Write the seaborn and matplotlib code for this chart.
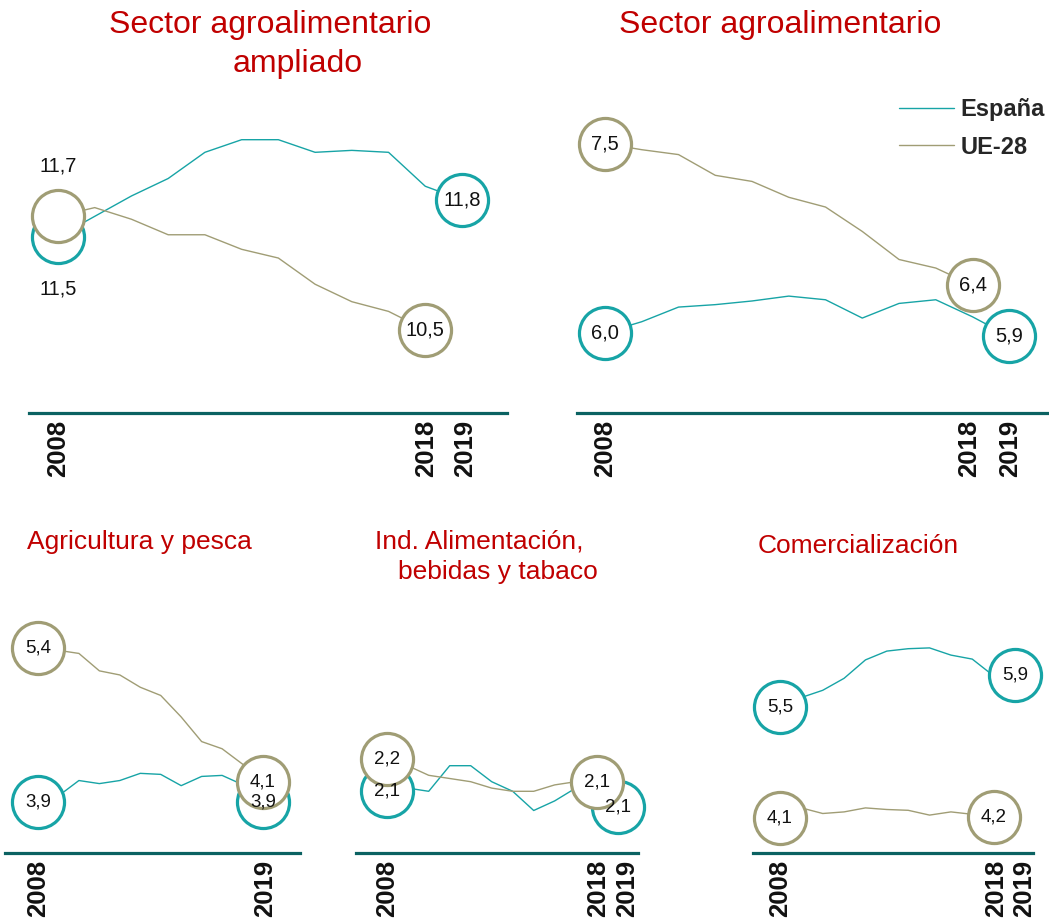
import matplotlib
matplotlib.use("Agg")
import matplotlib.pyplot as plt
import matplotlib.transforms as mtransforms
from matplotlib.lines import Line2D
import seaborn as sns
import pandas as pd

# data, 2008-2019; UE-28 mostly ends in 2018
years = list(range(2008, 2020))

ampl_es = [11.46, 11.67, 11.88, 12.06, 12.33, 12.46, 12.46, 12.33, 12.35, 12.33, 11.98, 11.84]
ampl_ue = [11.67, 11.76, 11.64, 11.48, 11.48, 11.33, 11.24, 10.97, 10.79, 10.69, 10.50]
agro_es = [5.97, 6.06, 6.18, 6.20, 6.23, 6.27, 6.24, 6.09, 6.21, 6.24, 6.10, 5.94]
agro_ue = [7.52, 7.47, 7.43, 7.26, 7.21, 7.08, 7.00, 6.80, 6.57, 6.50, 6.36]
agri_es = [3.90, 3.96, 4.11, 4.08, 4.11, 4.18, 4.17, 4.06, 4.15, 4.16, 4.07, 3.90]
agri_ue = [5.40, 5.38, 5.35, 5.18, 5.14, 5.02, 4.94, 4.73, 4.49, 4.42, 4.27, 4.10]
ind_es = [2.11, 2.12, 2.11, 2.19, 2.19, 2.14, 2.11, 2.05, 2.08, 2.12, 2.14, 2.06]
ind_ue = [2.21, 2.19, 2.16, 2.15, 2.14, 2.12, 2.11, 2.11, 2.13, 2.14, 2.14]
com_es = [5.53, 5.65, 5.74, 5.89, 6.12, 6.23, 6.26, 6.27, 6.18, 6.13, 5.92, 5.93]
com_ue = [4.14, 4.27, 4.20, 4.22, 4.27, 4.25, 4.24, 4.18, 4.22, 4.19, 4.16]

series_names = ["España", "UE-28"]
titles = [
    ["Sector agroalimentario", "ampliado"],
    ["Sector agroalimentario"],
    ["Agricultura y pesca"],
    ["Ind. Alimentación,", "bebidas y tabaco"],
    ["Comercialización"],
]
tick_sets = [[2008, 2018, 2019], [2008, 2018, 2019], [2008, 2019],
             [2008, 2018, 2019], [2008, 2018, 2019]]

TEAL = "#17a4a6"
OLIVE = "#a09d75"
BASE = "#0b6262"
RED = "#c00000"

W, H = 1049, 921

# layout in pixels: axes box (left, right, baseline, top),
# x calibration (px of 2008, px of 2019), y calibration (value, px, px per unit),
# nudge of the tick labels (px) so 2018 / 2019 do not collide
layout = [
    dict(box=(29, 507, 412.7, 100), xcal=(58, 462), ycal=(11.46, 236.7, 97),
         title_x=[270, 298], title_y=[33, 72], tsize=23, lsize=14.5,
         nudge=[0, 1, 3]),
    dict(box=(577, 1048, 412.7, 100), xcal=(605, 1009.3), ycal=(5.97, 332.7, 122),
         title_x=[780], title_y=[33], tsize=23, lsize=14.5,
         nudge=[0, -3, 1]),
    dict(box=(5, 300, 853.3, 600), xcal=(38, 263), ycal=(5.4, 648.3, 102.5),
         title_x=[139], title_y=[549], tsize=19, lsize=13.5,
         nudge=[0, 2]),
    dict(box=(356, 638, 853.3, 600), xcal=(386.7, 617.7), ycal=(2.21, 759.3, 320),
         title_x=[479, 498], title_y=[548, 579], tsize=19, lsize=13.5,
         nudge=[0, 1, 9]),
    dict(box=(753, 1033, 853.3, 600), xcal=(780, 1015), ycal=(4.14, 818.3, 80),
         title_x=[858], title_y=[553], tsize=19, lsize=13.5,
         nudge=[0, 2, 9]),
]

panel_data = [(ampl_es, ampl_ue), (agro_es, agro_ue), (agri_es, agri_ue),
              (ind_es, ind_ue), (com_es, com_ue)]

sns.set_theme(style="white")
plt.rcParams["font.family"] = ["Liberation Sans", "DejaVu Sans"]

fig = plt.figure(figsize=(W / 100, H / 100), dpi=100)

axes = []
for i, (cfg, (es, ue)) in enumerate(zip(layout, panel_data)):
    L, R, B, T = cfg["box"]
    ax = fig.add_axes([L / W, 1 - B / H, (R - L) / W, (B - T) / H])
    axes.append(ax)

    df = pd.concat([
        pd.DataFrame({"año": years[:len(es)], "valor": es, "serie": "España"}),
        pd.DataFrame({"año": years[:len(ue)], "valor": ue, "serie": "UE-28"}),
    ])
    sns.lineplot(data=df, x="año", y="valor", hue="serie",
                 palette={"España": TEAL, "UE-28": OLIVE},
                 linewidth=1.0, legend=False, ax=ax, zorder=2)

    # end-point circles (olive drawn on top)
    for vals, col, z in [(es, TEAL, 3), (ue, OLIVE, 4)]:
        xs = [years[0], years[len(vals) - 1]]
        ys = [vals[0], vals[-1]]
        ax.plot(xs, ys, linestyle="none", marker="o", markersize=37.5,
                markerfacecolor="white", markeredgecolor=col,
                markeredgewidth=2.3, zorder=z, clip_on=False)
        for k, (x, y) in enumerate(zip(xs, ys)):
            txt = f"{y:.1f}".replace(".", ",")
            dy = 0
            if i == 0 and k == 0:
                dy = 36 if col == OLIVE else -38
            ax.annotate(txt, (x, y), xytext=(0, dy), textcoords="offset points",
                        ha="center", va="center", fontsize=cfg["lsize"],
                        color="#111111", zorder=6, annotation_clip=False)

    # scales from the pixel calibration
    x0, x1 = cfg["xcal"]
    ppy = (x1 - x0) / 11
    ax.set_xlim(2008 - (x0 - L) / ppy, 2019 + (R - x1) / ppy)
    v, yp, s = cfg["ycal"]
    ax.set_ylim(v - (B - yp) / s, v + (yp - T) / s)

    ax.set_xticks(tick_sets[i])
    ax.set_xticklabels([str(t) for t in tick_sets[i]], rotation=90,
                       fontsize=18.5, fontweight="bold", color="#111111")
    ax.tick_params(axis="x", length=0, pad=5)
    for lab, dx in zip(ax.get_xticklabels(), cfg["nudge"]):
        shift = mtransforms.ScaledTranslation(dx / 100, 0, fig.dpi_scale_trans)
        lab.set_transform(lab.get_transform() + shift)
    ax.set_yticks([])
    ax.set_xlabel("")
    ax.set_ylabel("")
    for side in ["left", "top", "right"]:
        ax.spines[side].set_visible(False)
    ax.spines["bottom"].set_color(BASE)
    ax.spines["bottom"].set_linewidth(2.3)
    ax.patch.set_alpha(0)

    for line, tx, ty in zip(titles[i], cfg["title_x"], cfg["title_y"]):
        fig.text(tx / W, 1 - ty / H, line, ha="center", va="baseline",
                 fontsize=cfg["tsize"], color=RED)

handles = [Line2D([], [], color=TEAL, lw=1.0), Line2D([], [], color=OLIVE, lw=1.0)]
axes[1].legend(handles, series_names, loc="upper right",
               bbox_to_anchor=(1045 / W, 1 - 98 / H), bbox_transform=fig.transFigure,
               frameon=False, prop={"weight": "bold", "size": 17},
               handlelength=2.3, handletextpad=0.3, labelspacing=0.62,
               borderaxespad=0, borderpad=0)

fig.savefig("out.png", dpi=100)
